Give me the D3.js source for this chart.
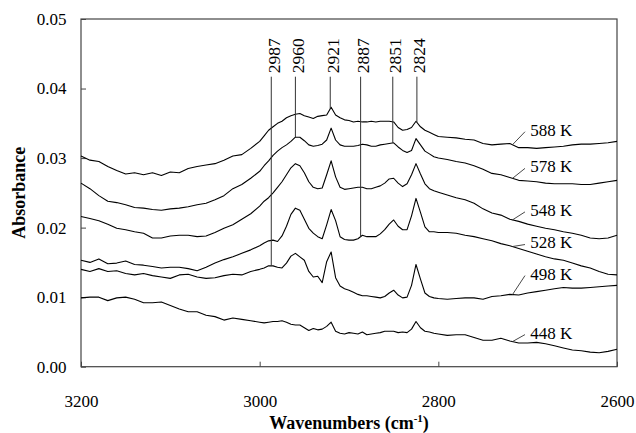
<!DOCTYPE html>
<html>
<head>
<meta charset="utf-8">
<script src="https://cdn.jsdelivr.net/npm/d3@7"></script>
<style>
body { margin: 0; background: #fff; }
text { font-family: "Liberation Serif", "Times New Roman", serif; fill: #000; }
</style>
</head>
<body>
<svg id="chart" width="636" height="433"></svg>
<script>
// wavenumber grid (cm-1), finer through the C-H stretch region
var wavenumbers = [3200, 3190, 3180, 3170, 3160, 3150, 3140, 3130, 3120, 3110, 3100, 3090, 3080, 3070, 3060, 3050, 3040, 3030, 3020, 3010, 3000,
    2995, 2990, 2985, 2980, 2975, 2970, 2965, 2960, 2955, 2950, 2945, 2940, 2935, 2930, 2925, 2920, 2915, 2910, 2905, 2900,
    2895, 2890, 2885, 2880, 2875, 2870, 2865, 2860, 2855, 2850, 2845, 2840, 2835, 2830, 2825, 2820, 2815, 2810, 2805, 2800,
    2790, 2780, 2770, 2760, 2750, 2740, 2730, 2720, 2710, 2700, 2690, 2680, 2670, 2660, 2650, 2640, 2630, 2620, 2610, 2600];

// absorbance spectra, one array per temperature
var abs588 = [.0303, .0297, .0295, .0288, .0282, .0277, .0279, .0276, .0279, .0275, .0280, .0279, .0285, .0288, .0290, .0292, .0297, .0303, .0305, .0314, .0324,
    .0332, .0340, .0345, .0350, .0353, .0358, .0361, .0363, .0364, .0361, .0359, .0357, .0360, .0361, .0362, .0373, .0362, .0358, .0355, .0354,
    .0352, .0353, .0352, .0352, .0353, .0352, .0353, .0353, .0353, .0352, .0344, .0340, .0341, .0344, .0353, .0345, .0340, .0337, .0334, .0331,
    .0330, .0329, .0327, .0326, .0321, .0319, .0320, .0321, .0315, .0315, .0314, .0315, .0316, .0317, .0319, .0320, .0320, .0321, .0322, .0324];
var abs578 = [.0264, .0256, .0246, .0238, .0236, .0233, .0229, .0228, .0226, .0225, .0227, .0228, .0230, .0233, .0235, .0240, .0246, .0256, .0262, .0271, .0281,
    .0289, .0296, .0304, .0310, .0315, .0319, .0324, .0330, .0330, .0325, .0319, .0317, .0318, .0320, .0326, .0343, .0326, .0319, .0317, .0317,
    .0317, .0318, .0320, .0319, .0317, .0317, .0319, .0320, .0321, .0322, .0316, .0311, .0308, .0311, .0328, .0319, .0310, .0306, .0302, .0300,
    .0298, .0295, .0293, .0289, .0284, .0278, .0276, .0272, .0268, .0267, .0266, .0264, .0263, .0263, .0263, .0262, .0262, .0264, .0266, .0268];
var abs548 = [.0216, .0213, .0210, .0205, .0199, .0197, .0194, .0192, .0185, .0185, .0188, .0189, .0189, .0187, .0188, .0193, .0199, .0204, .0212, .0220, .0231,
    .0238, .0243, .0250, .0258, .0266, .0276, .0286, .0292, .0289, .0279, .0266, .0258, .0256, .0257, .0276, .0296, .0273, .0258, .0255, .0256,
    .0257, .0258, .0258, .0256, .0256, .0258, .0260, .0264, .0270, .0271, .0264, .0259, .0263, .0276, .0292, .0277, .0263, .0256, .0253, .0251,
    .0247, .0243, .0240, .0235, .0227, .0221, .0218, .0212, .0209, .0205, .0202, .0199, .0197, .0194, .0192, .0189, .0185, .0184, .0185, .0189];
var abs528 = [.0153, .0150, .0155, .0148, .0149, .0152, .0147, .0146, .0144, .0142, .0143, .0143, .0141, .0138, .0143, .0149, .0154, .0158, .0163, .0168, .0174,
    .0178, .0181, .0182, .0180, .0188, .0202, .0219, .0228, .0225, .0212, .0199, .0192, .0187, .0184, .0204, .0226, .0210, .0187, .0183, .0182,
    .0182, .0184, .0189, .0187, .0187, .0187, .0191, .0197, .0205, .0211, .0202, .0197, .0197, .0217, .0242, .0222, .0201, .0194, .0194, .0193,
    .0193, .0192, .0189, .0187, .0184, .0181, .0177, .0174, .0170, .0166, .0162, .0158, .0155, .0153, .0149, .0145, .0142, .0137, .0133, .0132];
var abs498 = [.0140, .0137, .0141, .0137, .0138, .0134, .0132, .0134, .0131, .0129, .0127, .0132, .0133, .0129, .0127, .0128, .0131, .0133, .0132, .0137, .0140,
    .0142, .0145, .0145, .0143, .0142, .0149, .0159, .0163, .0158, .0153, .0137, .0129, .0130, .0121, .0151, .0165, .0128, .0116, .0112, .0110,
    .0107, .0104, .0102, .0102, .0101, .0100, .0099, .0101, .0106, .0110, .0103, .0099, .0100, .0117, .0147, .0126, .0106, .0101, .0099, .0098,
    .0097, .0098, .0099, .0099, .0097, .0101, .0102, .0104, .0103, .0106, .0108, .0110, .0112, .0114, .0113, .0113, .0114, .0115, .0116, .0117];
var abs448 = [.0099, .0100, .0100, .0095, .0099, .0100, .0097, .0092, .0092, .0093, .0088, .0083, .0079, .0079, .0074, .0072, .0067, .0070, .0068, .0066, .0064,
    .0063, .0064, .0065, .0065, .0066, .0064, .0061, .0060, .0060, .0056, .0052, .0055, .0053, .0054, .0058, .0064, .0051, .0048, .0047, .0049,
    .0048, .0047, .0050, .0046, .0047, .0048, .0049, .0051, .0051, .0051, .0049, .0050, .0049, .0054, .0065, .0056, .0051, .0050, .0048, .0047,
    .0045, .0046, .0046, .0042, .0038, .0038, .0041, .0037, .0034, .0034, .0035, .0033, .0030, .0027, .0024, .0023, .0021, .0020, .0022, .0025];

var allSpectra = [abs588, abs578, abs548, abs528, abs498, abs448];
var temperatureLabels = ["588 K", "578 K", "548 K", "528 K", "498 K", "448 K"];

// marked bands and the spectrum (index into allSpectra) each marker line stops on
var peakWavenumbers = [2987, 2960, 2921, 2887, 2851, 2824];
var peakEndSpectrum = [4, 1, 0, 3, 1, 0];

var xTickValues = [3200, 3000, 2800, 2600];
var yTickValues = [0, 0.01, 0.02, 0.03, 0.04, 0.05];


var svg = d3.select("#chart");
var plotLeft = 81, plotRight = 617, plotTop = 19, plotBottom = 366.7;

// wavenumbers decrease to the right
var xScale = d3.scaleLinear()
    .domain([3200, 2600])
    .range([plotLeft, plotRight]);

var yScale = d3.scaleLinear()
    .domain([0, 0.05])
    .range([plotBottom, plotTop]);

// axes, ticks pointing inwards
var xAxis = d3.axisBottom(xScale)
    .tickValues(xTickValues)
    .tickFormat(d3.format("d"))
    .tickSizeInner(-5)
    .tickSizeOuter(0)
    .tickPadding(28);

var yAxis = d3.axisLeft(yScale)
    .tickValues(yTickValues)
    .tickFormat(d3.format(".2f"))
    .tickSizeInner(-5)
    .tickSizeOuter(0)
    .tickPadding(14.5);

var gx = svg.append("g")
    .attr("transform", "translate(0," + plotBottom + ")")
    .call(xAxis);
var gy = svg.append("g")
    .attr("transform", "translate(" + plotLeft + ",0)")
    .call(yAxis);

[gx, gy].forEach(function (g) {
    g.select(".domain").remove();
    g.selectAll(".tick line").attr("stroke", "#444").attr("stroke-width", 1);
    g.selectAll(".tick text")
        .attr("font-family", "Liberation Serif, serif")
        .attr("font-size", 17)
        .attr("fill", "#000");
});

// frame round the plot
svg.append("rect")
    .attr("x", plotLeft)
    .attr("y", plotTop)
    .attr("width", plotRight - plotLeft)
    .attr("height", plotBottom - plotTop)
    .attr("fill", "none")
    .attr("stroke", "#444")
    .attr("stroke-width", 1.2);

// spectra
var line = d3.line()
    .x(function (d, i) { return xScale(wavenumbers[i]); })
    .y(function (d) { return yScale(d); });

svg.append("g")
    .selectAll("path")
    .data(allSpectra)
    .enter()
    .append("path")
    .attr("d", line)
    .attr("fill", "none")
    .attr("stroke", "#000")
    .attr("stroke-width", 1.1)
    .attr("stroke-linejoin", "round");

// absorbance of one spectrum at any wavenumber (between grid points)
function valueAt(spectrum, w) {
    for (var i = 0; i < wavenumbers.length - 1; i++) {
        if (w <= wavenumbers[i] && w >= wavenumbers[i + 1]) {
            var t = (wavenumbers[i] - w) / (wavenumbers[i] - wavenumbers[i + 1]);
            return spectrum[i] + t * (spectrum[i + 1] - spectrum[i]);
        }
    }
    return spectrum[spectrum.length - 1];
}

// band marker lines with rotated labels
var markerTop = 76.7;
var markers = svg.append("g");
peakWavenumbers.forEach(function (w, i) {
    var px = xScale(w);
    var endY = yScale(valueAt(allSpectra[peakEndSpectrum[i]], w));
    markers.append("line")
        .attr("x1", px).attr("x2", px)
        .attr("y1", markerTop).attr("y2", endY)
        .attr("stroke", "#333")
        .attr("stroke-width", 1);
    markers.append("text")
        .attr("transform", "translate(" + (px + 8.5) + "," + (markerTop - 3.5) + ") rotate(-90)")
        .attr("font-size", 17.5)
        .text(w);
});

// temperature labels with short leader lines to their spectrum
var leaderEndW = 2717, leaderStartW = 2703, labelW = 2697;
var labelShift = [-15, -12, -10, -4, -21, -9];
var labels = svg.append("g");
temperatureLabels.forEach(function (t, i) {
    var endY = yScale(valueAt(allSpectra[i], leaderEndW));
    var labelY = endY + labelShift[i];
    labels.append("line")
        .attr("x1", xScale(leaderEndW)).attr("y1", endY)
        .attr("x2", xScale(leaderStartW)).attr("y2", labelY + 2)
        .attr("stroke", "#333")
        .attr("stroke-width", 0.9);
    labels.append("text")
        .attr("x", xScale(labelW))
        .attr("y", labelY)
        .attr("dy", "0.35em")
        .attr("font-size", 17)
        .text(t);
});

// axis titles
svg.append("text")
    .attr("transform", "translate(25," + ((plotTop + plotBottom) / 2) + ") rotate(-90)")
    .attr("text-anchor", "middle")
    .attr("font-size", 18)
    .attr("font-weight", "bold")
    .text("Absorbance");

var xTitle = svg.append("text")
    .attr("x", (plotLeft + plotRight) / 2)
    .attr("y", 428.5)
    .attr("text-anchor", "middle")
    .attr("font-size", 18)
    .attr("font-weight", "bold");
xTitle.append("tspan").text("Wavenumbers (cm");
xTitle.append("tspan").attr("dy", -7).attr("font-size", 11).text("-1");
xTitle.append("tspan").attr("dy", 7).text(")");
</script>
</body>
</html>
